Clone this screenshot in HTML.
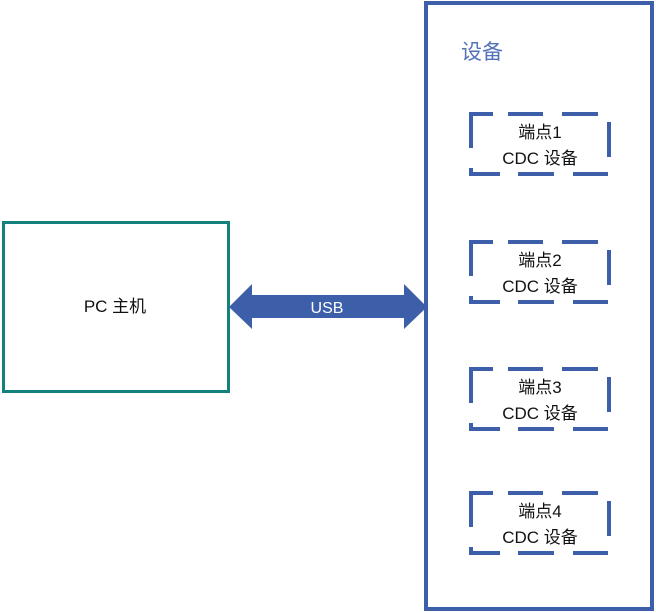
<!DOCTYPE html>
<html><head><meta charset="utf-8"><style>
html,body{margin:0;padding:0;background:#fff;}
svg{display:block;}
text{font-family:"Liberation Sans","Noto Sans CJK SC",sans-serif;}
</style></head><body>
<svg width="656" height="613" viewBox="0 0 656 613" xmlns="http://www.w3.org/2000/svg">
<rect x="0" y="0" width="656" height="613" fill="#fff"/>
<!-- PC box -->
<rect x="3.5" y="222.5" width="225" height="169" fill="#fff" stroke="#14827c" stroke-width="3"/>
<text x="115" y="312" font-size="17" text-anchor="middle" fill="#111">PC 主机</text>
<!-- Device box -->
<rect x="426" y="3" width="226" height="606" fill="none" stroke="#3d5fa9" stroke-width="4"/>
<text x="461" y="59" font-size="21" fill="#5472b8">设备</text>
<!-- Arrow -->
<polygon points="229,307 252,284 252,295 404,295 404,284 427,307 404,329 404,318 252,318 252,329" fill="#3d5fa9"/>
<text x="327" y="313" font-size="16" text-anchor="middle" fill="#fff">USB</text>
<!-- Dashed boxes -->
<g fill="#3d5fa9">
<g id="b1">
<!-- top -->
<rect x="469" y="112" width="24" height="4"/>
<rect x="508" y="112" width="35" height="4"/>
<rect x="562" y="112" width="36" height="4"/>
<!-- right -->
<rect x="607" y="122" width="4" height="35"/>
<!-- bottom -->
<rect x="469" y="172" width="31" height="4"/>
<rect x="518" y="172" width="36" height="4"/>
<rect x="573" y="172" width="35" height="4"/>
<!-- left -->
<rect x="469" y="112" width="4" height="36"/>
<rect x="469" y="168" width="4" height="8"/>
</g>
<use href="#b1" y="128"/>
<use href="#b1" y="255"/>
<use href="#b1" y="379"/>
</g>
<g font-size="17" text-anchor="middle" fill="#111">
<text x="540" y="138">端点1</text>
<text x="540" y="164">CDC 设备</text>
<text x="540" y="266">端点2</text>
<text x="540" y="292">CDC 设备</text>
<text x="540" y="393">端点3</text>
<text x="540" y="419">CDC 设备</text>
<text x="540" y="517">端点4</text>
<text x="540" y="543">CDC 设备</text>
</g>
</svg>
</body></html>
